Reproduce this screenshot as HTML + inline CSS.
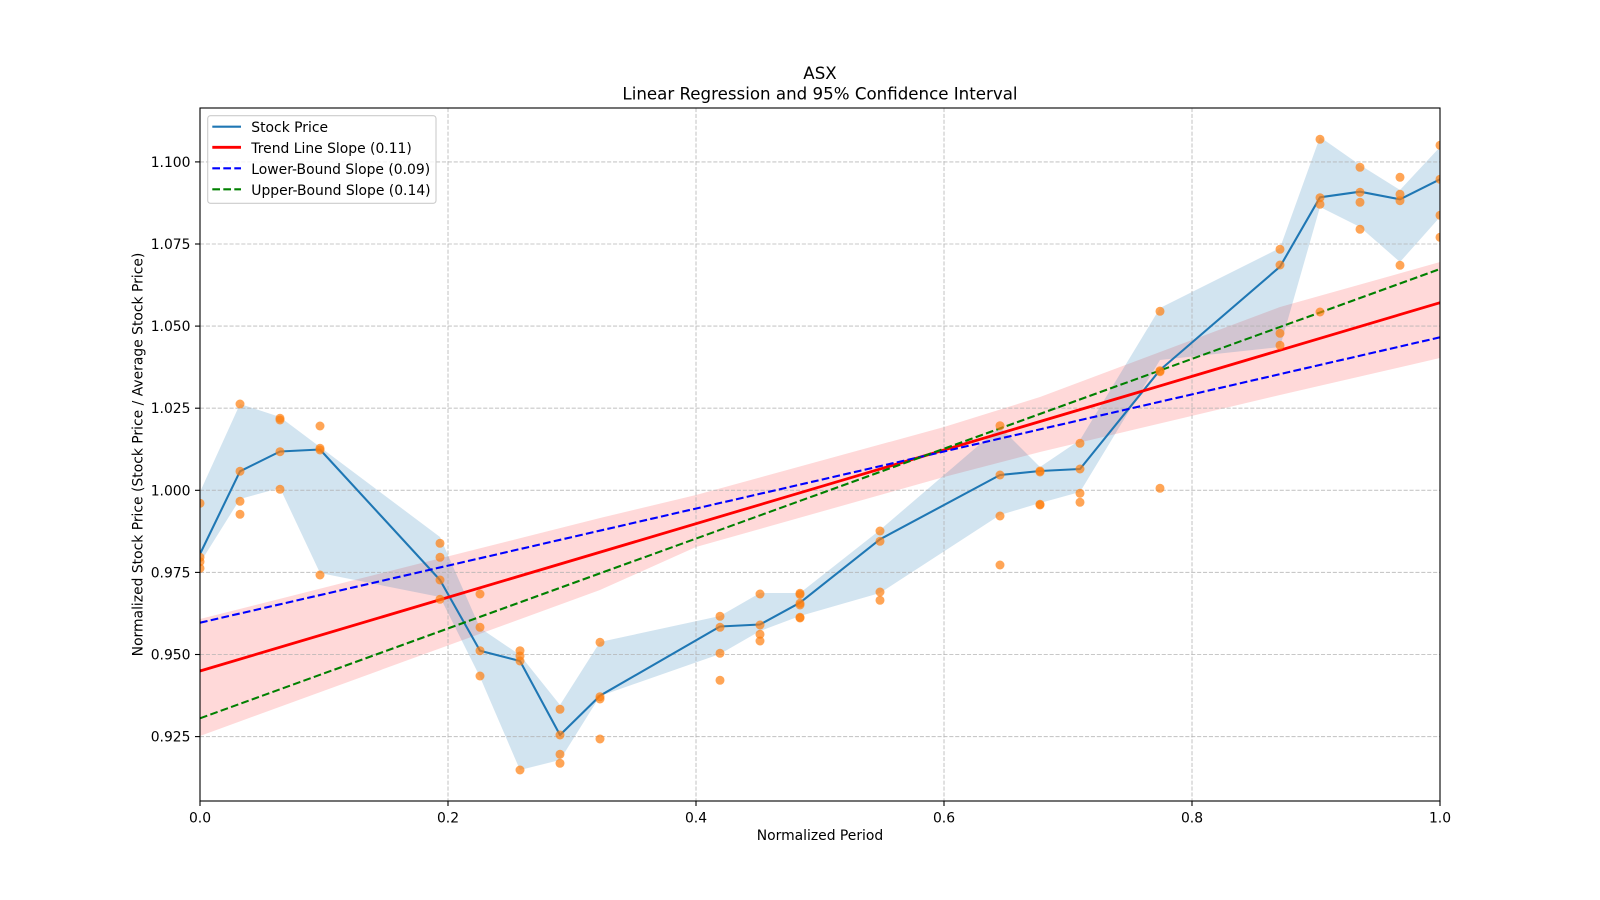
<!DOCTYPE html>
<html>
<head>
<meta charset="utf-8">
<style>
  html, body { margin:0; padding:0; background:#ffffff; }
  svg { display:block; }
  text { font-family: "DejaVu Sans", "Liberation Sans", sans-serif; fill:#000; }
</style>
</head>
<body>
<svg width="1600" height="900" viewBox="0 0 1600 900" xmlns="http://www.w3.org/2000/svg">
  <defs>
    <clipPath id="ax">
      <rect x="200" y="108" width="1240" height="693"/>
    </clipPath>
  </defs>
  <rect x="0" y="0" width="1600" height="900" fill="#ffffff"/>

  <g clip-path="url(#ax)">
    <!-- pink CI band -->
    <polygon fill="#ff0000" fill-opacity="0.15" points="
      200,619 600,518 696,495 944,427 1040,397 1280,307 1440,262
      1440,358 1280,395 1040,452 944,477 696,547 600,590 200,736"/>

    <!-- blue band -->
    <polygon fill="#1f77b4" fill-opacity="0.2" points="
      200,492 240,404 280,417 320,447 440,537 480,628 520,655 560,705 600,642
      720,616 760,593 800,593 880,530 1000,427 1040,467 1080,440 1160,308
      1280,248 1320,137 1360,165 1400,190 1440,147
      1440,217 1400,262 1360,227 1320,207 1280,347 1160,360 1080,492 1040,503
      1000,515 880,593 800,616 760,631 720,654 600,696 560,760 520,770 480,677
      440,597 320,573 280,488 240,499 200,563"/>

    <!-- grid -->
    <g stroke="#b0b0b0" stroke-opacity="0.7" stroke-width="1.1" stroke-dasharray="4.1,1.8" fill="none">
      <line x1="448" y1="108" x2="448" y2="801"/>
      <line x1="696" y1="108" x2="696" y2="801"/>
      <line x1="944" y1="108" x2="944" y2="801"/>
      <line x1="1192" y1="108" x2="1192" y2="801"/>
      <line x1="200" y1="161.9" x2="1440" y2="161.9"/>
      <line x1="200" y1="244" x2="1440" y2="244"/>
      <line x1="200" y1="326.1" x2="1440" y2="326.1"/>
      <line x1="200" y1="408.2" x2="1440" y2="408.2"/>
      <line x1="200" y1="490.3" x2="1440" y2="490.3"/>
      <line x1="200" y1="572.4" x2="1440" y2="572.4"/>
      <line x1="200" y1="654.5" x2="1440" y2="654.5"/>
      <line x1="200" y1="736.6" x2="1440" y2="736.6"/>
    </g>

    <!-- stock price line -->
    <polyline fill="none" stroke="#1f77b4" stroke-width="2.08" stroke-linejoin="round" points="
      200,554 240,471.3 280,451.5 320,449.5 440,580 480,650.7 520,661 560,735 600,695.7
      720,626.5 760,624.5 800,602.7 880,539.3 1000,475 1040,471 1080,469 1160,370
      1280,266.7 1320,197.3 1360,191.7 1400,199.3 1440,179.3"/>

    <!-- trend lines -->
    <line x1="200" y1="671" x2="1440" y2="302.7" stroke="#ff0000" stroke-width="2.8"/>
    <line x1="200" y1="622.7" x2="1440" y2="337.3" stroke="#0000ff" stroke-width="2.08" stroke-dasharray="7.7,3.3"/>
    <line x1="200" y1="718.3" x2="1440" y2="269" stroke="#008000" stroke-width="2.08" stroke-dasharray="7.7,3.3"/>

    <!-- scatter points -->
    <g fill="#ff7f0e" fill-opacity="0.7">
      <circle cx="200" cy="503.3" r="4.5"/><circle cx="200" cy="557.3" r="4.5"/><circle cx="200" cy="561.7" r="4.5"/><circle cx="200" cy="568.3" r="4.5"/>
      <circle cx="240" cy="404" r="4.5"/><circle cx="240" cy="471.3" r="4.5"/><circle cx="240" cy="501.3" r="4.5"/><circle cx="240" cy="514.3" r="4.5"/>
      <circle cx="280" cy="418.3" r="4.5"/><circle cx="280" cy="420" r="4.5"/><circle cx="280" cy="451.7" r="4.5"/><circle cx="280" cy="489.3" r="4.5"/>
      <circle cx="320" cy="426" r="4.5"/><circle cx="320" cy="448.3" r="4.5"/><circle cx="320" cy="450" r="4.5"/><circle cx="320" cy="575" r="4.5"/>
      <circle cx="440" cy="543.3" r="4.5"/><circle cx="440" cy="557.3" r="4.5"/><circle cx="440" cy="580" r="4.5"/><circle cx="440" cy="599.3" r="4.5"/>
      <circle cx="480" cy="594" r="4.5"/><circle cx="480" cy="627.3" r="4.5"/><circle cx="480" cy="650.7" r="4.5"/><circle cx="480" cy="676" r="4.5"/>
      <circle cx="520" cy="650.7" r="4.5"/><circle cx="520" cy="656" r="4.5"/><circle cx="520" cy="661" r="4.5"/><circle cx="520" cy="770" r="4.5"/>
      <circle cx="560" cy="709.3" r="4.5"/><circle cx="560" cy="735" r="4.5"/><circle cx="560" cy="754.3" r="4.5"/><circle cx="560" cy="763.3" r="4.5"/>
      <circle cx="600" cy="642.3" r="4.5"/><circle cx="600" cy="696.7" r="4.5"/><circle cx="600" cy="699" r="4.5"/><circle cx="600" cy="739" r="4.5"/>
      <circle cx="720" cy="616.3" r="4.5"/><circle cx="720" cy="627.3" r="4.5"/><circle cx="720" cy="653.3" r="4.5"/><circle cx="720" cy="680.3" r="4.5"/>
      <circle cx="760" cy="594" r="4.5"/><circle cx="760" cy="625" r="4.5"/><circle cx="760" cy="634.3" r="4.5"/><circle cx="760" cy="641" r="4.5"/>
      <circle cx="800" cy="593.3" r="4.5"/><circle cx="800" cy="594.5" r="4.5"/><circle cx="800" cy="603.3" r="4.5"/><circle cx="800" cy="605" r="4.5"/><circle cx="800" cy="617.3" r="4.5"/><circle cx="800" cy="618" r="4.5"/>
      <circle cx="880" cy="531" r="4.5"/><circle cx="880" cy="541.3" r="4.5"/><circle cx="880" cy="592" r="4.5"/><circle cx="880" cy="600.3" r="4.5"/>
      <circle cx="1000" cy="425.7" r="4.5"/><circle cx="1000" cy="475" r="4.5"/><circle cx="1000" cy="516" r="4.5"/><circle cx="1000" cy="565" r="4.5"/>
      <circle cx="1040" cy="471" r="4.5"/><circle cx="1040" cy="472" r="4.5"/><circle cx="1040" cy="504.3" r="4.5"/><circle cx="1040" cy="505" r="4.5"/>
      <circle cx="1080" cy="443.3" r="4.5"/><circle cx="1080" cy="469" r="4.5"/><circle cx="1080" cy="493.3" r="4.5"/><circle cx="1080" cy="502.3" r="4.5"/>
      <circle cx="1160" cy="311.3" r="4.5"/><circle cx="1160" cy="370.7" r="4.5"/><circle cx="1160" cy="371.7" r="4.5"/><circle cx="1160" cy="488.3" r="4.5"/>
      <circle cx="1280" cy="249.3" r="4.5"/><circle cx="1280" cy="265" r="4.5"/><circle cx="1280" cy="333.3" r="4.5"/><circle cx="1280" cy="345.3" r="4.5"/>
      <circle cx="1320" cy="139.3" r="4.5"/><circle cx="1320" cy="197.7" r="4.5"/><circle cx="1320" cy="204.3" r="4.5"/><circle cx="1320" cy="312" r="4.5"/>
      <circle cx="1360" cy="167.3" r="4.5"/><circle cx="1360" cy="192.3" r="4.5"/><circle cx="1360" cy="202.3" r="4.5"/><circle cx="1360" cy="229.3" r="4.5"/>
      <circle cx="1400" cy="177.3" r="4.5"/><circle cx="1400" cy="194.3" r="4.5"/><circle cx="1400" cy="200.7" r="4.5"/><circle cx="1400" cy="265.3" r="4.5"/>
      <circle cx="1440" cy="145.3" r="4.5"/><circle cx="1440" cy="179.3" r="4.5"/><circle cx="1440" cy="215.3" r="4.5"/><circle cx="1440" cy="237.3" r="4.5"/>
    </g>
  </g>

  <!-- spines -->
  <rect x="200" y="108" width="1240" height="693" fill="none" stroke="#000" stroke-width="1.1"/>

  <!-- ticks -->
  <g stroke="#000" stroke-width="1.1">
    <line x1="200" y1="801" x2="200" y2="806"/>
    <line x1="448" y1="801" x2="448" y2="806"/>
    <line x1="696" y1="801" x2="696" y2="806"/>
    <line x1="944" y1="801" x2="944" y2="806"/>
    <line x1="1192" y1="801" x2="1192" y2="806"/>
    <line x1="1440" y1="801" x2="1440" y2="806"/>
    <line x1="195" y1="161.9" x2="200" y2="161.9"/>
    <line x1="195" y1="244" x2="200" y2="244"/>
    <line x1="195" y1="326.1" x2="200" y2="326.1"/>
    <line x1="195" y1="408.2" x2="200" y2="408.2"/>
    <line x1="195" y1="490.3" x2="200" y2="490.3"/>
    <line x1="195" y1="572.4" x2="200" y2="572.4"/>
    <line x1="195" y1="654.5" x2="200" y2="654.5"/>
    <line x1="195" y1="736.6" x2="200" y2="736.6"/>
  </g>

  <!-- x tick labels -->
  <g font-size="13.9" text-anchor="middle">
    <text x="200" y="822.3">0.0</text>
    <text x="448" y="822.3">0.2</text>
    <text x="696" y="822.3">0.4</text>
    <text x="944" y="822.3">0.6</text>
    <text x="1192" y="822.3">0.8</text>
    <text x="1440" y="822.3">1.0</text>
  </g>

  <!-- y tick labels -->
  <g font-size="13.9" text-anchor="end">
    <text x="190.5" y="166.9">1.100</text>
    <text x="190.5" y="249">1.075</text>
    <text x="190.5" y="331.1">1.050</text>
    <text x="190.5" y="413.2">1.025</text>
    <text x="190.5" y="495.3">1.000</text>
    <text x="190.5" y="577.4">0.975</text>
    <text x="190.5" y="659.5">0.950</text>
    <text x="190.5" y="741.6">0.925</text>
  </g>

  <!-- axis labels -->
  <text x="820" y="840" font-size="13.9" text-anchor="middle">Normalized Period</text>
  <text x="0" y="0" font-size="13.9" text-anchor="middle" transform="translate(142.5,454.5) rotate(-90)">Normalized Stock Price (Stock Price / Average Stock Price)</text>

  <!-- title -->
  <text x="820" y="78.9" font-size="16.67" text-anchor="middle">ASX</text>
  <text x="820" y="99.6" font-size="16.67" text-anchor="middle">Linear Regression and 95% Confidence Interval</text>

  <!-- legend -->
  <rect x="207.7" y="115.7" width="228.3" height="87.6" rx="2.8" ry="2.8" fill="#ffffff" fill-opacity="0.8" stroke="#cccccc" stroke-width="1.1"/>
  <line x1="212.3" y1="126.7" x2="241" y2="126.7" stroke="#1f77b4" stroke-width="2.08"/>
  <line x1="212.3" y1="147.3" x2="241" y2="147.3" stroke="#ff0000" stroke-width="2.8"/>
  <line x1="212.3" y1="168.3" x2="241" y2="168.3" stroke="#0000ff" stroke-width="2.08" stroke-dasharray="7.7,3.3"/>
  <line x1="212.3" y1="189.3" x2="241" y2="189.3" stroke="#008000" stroke-width="2.08" stroke-dasharray="7.7,3.3"/>
  <g font-size="13.9">
    <text x="251.3" y="132.2">Stock Price</text>
    <text x="251.3" y="152.9">Trend Line Slope (0.11)</text>
    <text x="251.3" y="173.9">Lower-Bound Slope (0.09)</text>
    <text x="251.3" y="194.9">Upper-Bound Slope (0.14)</text>
  </g>
</svg>
</body>
</html>
